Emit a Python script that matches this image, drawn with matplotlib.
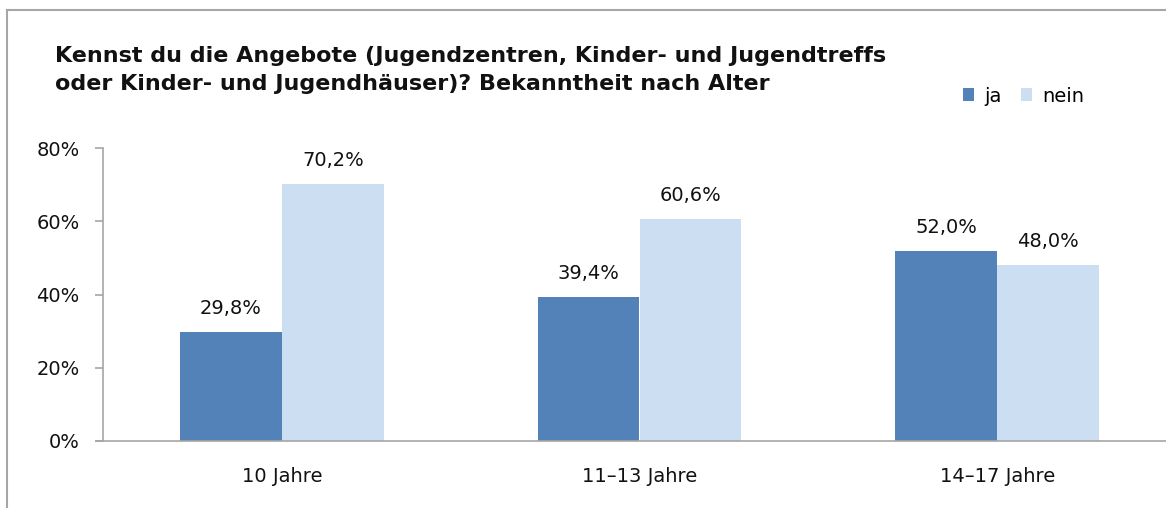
import matplotlib
matplotlib.use("Agg")
import matplotlib.pyplot as plt
from matplotlib.patches import Patch
from matplotlib.lines import Line2D
import numpy as np

plt.rcParams['font.family'] = ['DejaVu Sans']

categories = ["10 Jahre", "11–13 Jahre", "14–17 Jahre"]
series_names = ["ja", "nein"]
ja = [29.8, 39.4, 52.0]
nein = [70.2, 60.6, 48.0]
yticks = [0, 20, 40, 60, 80]
title = ("Kennst du die Angebote (Jugendzentren, Kinder- und Jugendtreffs\n"
         "oder Kinder- und Jugendhäuser)? Bekanntheit nach Alter")

c_ja = "#5282B8"
c_nein = "#CCDEF1"
axis_grey = "#A6A6A6"
txt = "#111111"
fs = 14

W, H = 1166, 508
fig = plt.figure(figsize=(W / 100, H / 100), dpi=100)
ax = fig.add_axes([103 / W, 67 / H, (1176 - 103) / W, 293 / H])

x = np.arange(len(categories))
bw = 0.285
b1 = ax.bar(x - bw / 2, ja, width=bw, color=c_ja, label=series_names[0])
b2 = ax.bar(x + bw / 2, nein, width=bw, color=c_nein, label=series_names[1])

fmt = lambda v: f"{v:.1f}".replace(".", ",") + "%"
ax.bar_label(b1, labels=[fmt(v) for v in ja], padding=10, fontsize=fs, color=txt)
ax.bar_label(b2, labels=[fmt(v) for v in nein], padding=10, fontsize=fs, color=txt)

ax.set_xlim(-0.5, 2.5)
ax.set_ylim(0, 80)
ax.set_yticks(yticks)
ax.set_yticklabels([f"{t}%" for t in yticks], fontsize=fs, color=txt)
ax.set_xticks(x)
ax.set_xticklabels(categories, fontsize=fs, color=txt)
ax.tick_params(axis="x", length=0, pad=19)
ax.tick_params(axis="y", length=6, width=1.2, color=axis_grey, pad=11)

for s in ["top", "right"]:
    ax.spines[s].set_visible(False)
ax.spines["left"].set_color(axis_grey)
ax.spines["bottom"].set_color(axis_grey)
ax.spines["left"].set_linewidth(1.2)
ax.spines["bottom"].set_linewidth(1.2)
ax.spines["bottom"].set_bounds(-0.52, 2.6)
ax.spines["bottom"].set_clip_on(False)

fig.text(55 / W, 1 - 70 / H, title, fontsize=16, fontweight="bold",
         ha="left", va="center", linespacing=1.5, color=txt)

handles = [Patch(facecolor=c_ja, label=series_names[0]),
           Patch(facecolor=c_nein, label=series_names[1])]
fig.legend(handles=handles, loc="center left", bbox_to_anchor=(949 / W, 1 - 96 / H),
           ncol=2, frameon=False, fontsize=fs, handlelength=0.6, handleheight=0.6,
           handletextpad=0.5, columnspacing=1.0, borderpad=0.2)

# outer frame (left and top)
fig.add_artist(Line2D([7 / W, 7 / W], [0, 1 - 10 / H], transform=fig.transFigure,
                      color=axis_grey, lw=1.5))
fig.add_artist(Line2D([7 / W, 1], [1 - 10 / H, 1 - 10 / H], transform=fig.transFigure,
                      color=axis_grey, lw=1.5))

fig.savefig("out.png", dpi=100)
